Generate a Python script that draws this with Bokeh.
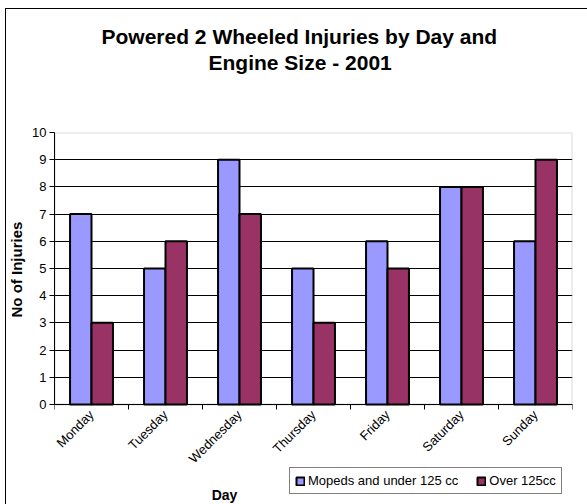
import numpy as np
from bokeh.plotting import figure
from bokeh.models import (ColumnDataSource, FixedTicker, Legend, LegendItem, Range1d, Title,
                          Label, BoxAnnotation)
from bokeh.embed import file_html
from bokeh.resources import INLINE

days = ["Monday", "Tuesday", "Wednesday", "Thursday", "Friday", "Saturday", "Sunday"]
mopeds = [7, 5, 9, 5, 6, 8, 6]
over125 = [3, 6, 7, 3, 5, 8, 9]
series_names = ["Mopeds and under 125 cc", "Over 125cc"]
y_ticks = list(range(0, 11))
y_max = 10

FONT = "Liberation Sans"
W, H = 587, 504

idx = np.arange(len(days)) + 0.5
bw = 0.29
src = ColumnDataSource(dict(x1=idx - bw / 2, x2=idx + bw / 2, m=mopeds, o=over125))

# the frame reaches the bottom of the canvas so the legend and "Day" can sit below the axis
p = figure(width=W, height=H, output_backend="svg", toolbar_location=None,
           x_range=Range1d(0, len(days)), y_range=Range1d(-3.68, y_max),
           min_border_left=54, min_border_right=15, min_border_top=132, min_border_bottom=0)
p.background_fill_color = "white"
p.border_fill_alpha = 0
p.outline_line_color = None
p.styles = {
    "background": "linear-gradient(black, black) 5px 8px / 1px 100% no-repeat, "
                  "linear-gradient(black, black) 5px 8px / 100% 1px no-repeat, white"
}

# plot-area border (grey, top and right)
p.add_layout(BoxAnnotation(left=0, right=len(days), bottom=0, top=y_max, fill_alpha=0,
                           line_color="#808080", line_width=2, level="underlay"))

r1 = p.vbar(x="x1", top="m", width=bw, source=src, fill_color="#9999FF",
            line_color="black", line_width=2)
r2 = p.vbar(x="x2", top="o", width=bw, source=src, fill_color="#993366",
            line_color="black", line_width=2)

# x axis at y = 0: labels at category centres, ticks at category boundaries
p.xaxis.fixed_location = 0
p.xaxis.ticker = FixedTicker(ticks=list(idx), minor_ticks=list(range(0, len(days) + 1)))
p.xaxis.major_label_overrides = {float(v): d for v, d in zip(idx, days)}
p.xaxis.major_label_orientation = np.pi / 4
p.xaxis.major_tick_out = 0
p.xaxis.major_tick_in = 0
p.xaxis.minor_tick_out = 5
p.xaxis.minor_tick_in = 0
p.xaxis.minor_tick_line_color = "black"
p.xaxis.axis_line_color = "black"
p.xaxis.major_label_text_font = FONT
p.xaxis.major_label_text_font_size = "13px"
p.xaxis.major_label_text_color = "black"
p.xaxis.major_label_standoff = 3

p.yaxis.bounds = (0, y_max)
p.yaxis.ticker = FixedTicker(ticks=y_ticks)
p.yaxis.major_tick_out = 5
p.yaxis.major_tick_in = 0
p.yaxis.minor_tick_line_color = None
p.yaxis.axis_line_color = "black"
p.yaxis.major_tick_line_color = "black"
p.yaxis.major_label_text_font = FONT
p.yaxis.major_label_text_font_size = "13px"
p.yaxis.major_label_text_color = "black"
p.yaxis.major_label_standoff = 3

p.xgrid.grid_line_color = None
p.ygrid.ticker = FixedTicker(ticks=y_ticks[:-1])
p.ygrid.grid_line_color = "black"
p.ygrid.grid_line_width = 1

# y-axis title, placed beside the 0..10 part of the axis
p.add_layout(Title(text="No of Injuries", align="left", offset=187, standoff=10,
                   text_font=FONT, text_font_size="15px", text_font_style="bold",
                   text_color="black"), "left")

# title (two lines) stacked above a spacer
spacer = Title(text=" ", text_font_size="1px", standoff=55)
t2 = Title(text="Engine Size - 2001", align="left", offset=154, standoff=1,
           text_font=FONT, text_font_size="21px", text_font_style="bold", text_color="black")
t1 = Title(text="Powered 2 Wheeled Injuries by Day and", align="left", offset=47, standoff=1,
           text_font=FONT, text_font_size="21px", text_font_style="bold", text_color="black")
p.add_layout(spacer, "above")
p.add_layout(t2, "above")
p.add_layout(t1, "above")

legend = Legend(items=[LegendItem(label=series_names[0], renderers=[r1]),
                       LegendItem(label=series_names[1], renderers=[r2])],
                orientation="horizontal", location=(235, 10),
                label_text_font=FONT, label_text_font_size="13px", label_text_color="black",
                glyph_width=10, glyph_height=10, label_standoff=3, spacing=18,
                padding=5, margin=0, border_line_color="black", border_line_width=1,
                background_fill_color="white", background_fill_alpha=1,
                label_height=13)
p.add_layout(legend, "center")

p.add_layout(Label(x=170, y=10, x_units="screen", y_units="screen", text="Day",
                   text_font=FONT, text_font_size="14px", text_font_style="bold",
                   text_align="center", text_baseline="middle", text_color="black"))

open("out.html", "w").write(file_html(p, INLINE))
